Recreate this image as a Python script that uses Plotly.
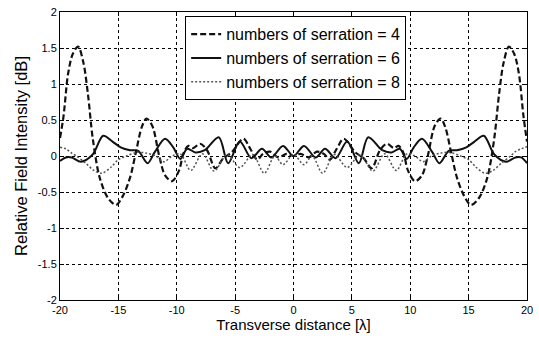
import plotly.graph_objects as go

# ---------------- data ----------------
x4 = [-20, -19.7, -19.3, -18.9, -18.45, -18.0, -17.6, -17.2, -16.6, -15.9, -15.2, -14.6, -14.0,
      -13.5, -13.0, -12.6, -12.1, -11.5, -11.0, -10.4, -9.8, -9.4, -9.0, -8.6, -8.0, -7.4,
      -6.7, -6.0, -5.3, -4.3, -3.7, -3.1, -2.6, -2.0, -1.3, -0.6, 0,
      0.6, 1.3, 2.0, 2.6, 3.1, 3.7, 4.3, 5.3, 6.0, 6.7, 7.4, 8.0, 8.6, 9.0, 9.4, 9.8,
      10.4, 11.0, 11.5, 12.1, 12.6, 13.0, 13.5, 14.0, 14.6, 15.2, 15.9, 16.6, 17.2, 17.6,
      18.0, 18.45, 18.9, 19.3, 19.7, 20]
y4 = [0.25, 0.55, 1.15, 1.42, 1.52, 1.3, 0.85, 0.25, -0.3, -0.58, -0.68, -0.55, -0.3,
      0.05, 0.4, 0.52, 0.42, 0.0, -0.27, -0.35, -0.2, 0.05, 0.14, 0.11, 0.17, 0.08,
      -0.17, -0.03, 0.05, 0.24, 0.1, -0.05, 0.03, 0.06, -0.02, 0.03, 0.0,
      0.03, -0.02, 0.06, 0.03, -0.05, 0.1, 0.24, 0.05, -0.03, -0.17, 0.08, 0.17, 0.11, 0.14, 0.05, -0.2,
      -0.35, -0.27, 0.0, 0.42, 0.52, 0.4, 0.05, -0.3, -0.55, -0.68, -0.58, -0.3, 0.25, 0.85,
      1.3, 1.52, 1.42, 1.15, 0.55, 0.2]

x6 = [-20, -19.5, -19, -18.2, -17.2, -16.3, -15.5, -14.8, -14, -13.3, -12.5, -11.9, -11,
      -10.3, -9.7, -9.1, -8.4, -7.6, -6.4, -5.6, -4.6, -3.6, -2.7, -1.9, -0.9, 0,
      0.9, 1.9, 2.7, 3.6, 4.6, 5.6, 6.4, 7.6, 8.4, 9.1, 9.7, 10.3, 11, 11.9, 12.5,
      13.3, 14, 14.8, 15.5, 16.3, 17.2, 18.2, 19, 19.5, 20]
y6 = [-0.07, -0.02, -0.02, -0.08, 0.02, 0.28, 0.2, 0.12, 0.08, 0.07, -0.1, 0.05, 0.24,
      0.12, -0.04, 0.1, 0.05, 0.08, 0.26, -0.1, 0.2, -0.03, 0.1, -0.02, 0.14, 0.0,
      0.14, -0.02, 0.1, -0.03, 0.2, -0.1, 0.26, 0.08, 0.05, 0.1, -0.04, 0.12, 0.24, 0.05, -0.1,
      0.07, 0.08, 0.12, 0.2, 0.28, 0.02, -0.08, -0.02, -0.02, -0.1]

x8 = [-20, -19.5, -19, -18.6, -17.8, -17.1, -16.4, -15.6, -15, -14.3, -13.4, -12.6, -11.8,
      -11.1, -10.4, -9.7, -8.8, -7.8, -6.8, -5.7, -4.6, -3.5, -2.5, -1.6, -0.9, 0,
      0.9, 1.6, 2.5, 3.5, 4.6, 5.7, 6.8, 7.8, 8.8, 9.7, 10.4, 11.1, 11.8, 12.6, 13.4,
      14.3, 15, 15.6, 16.4, 17.1, 17.8, 18.6, 19, 19.5, 20]
y8 = [0.12, 0.1, 0.04, 0.0, -0.1, -0.2, -0.24, -0.15, -0.05, 0.0, 0.05, 0.04, 0.0,
      -0.08, 0.0, 0.03, -0.2, 0.03, -0.21, 0.02, -0.16, 0.02, -0.24, 0.0, -0.12, 0.02,
      -0.12, 0.0, -0.24, 0.02, -0.16, 0.02, -0.21, 0.03, -0.2, 0.03, 0.0, -0.08, 0.0, 0.04, 0.05,
      0.0, -0.05, -0.15, -0.24, -0.2, -0.1, 0.0, 0.06, 0.1, 0.13]

names = ["numbers of serration = 4", "numbers of serration = 6", "numbers of serration = 8"]

x_ticks = [-20, -15, -10, -5, 0, 5, 10, 15, 20]
x_tick_labels = ["-20", "-15", "-10", "-5", "0", "5", "10", "15", "20"]
y_ticks = [-2, -1.5, -1, -0.5, 0, 0.5, 1, 1.5, 2]
y_tick_labels = ["-2", "-1.5", "-1", "-0.5", "0", "0.5", "1", "1.5", "2"]

x_title = "Transverse distance [λ]"
y_title = "Relative Field Intensity [dB]"

FONT = "Arial, Liberation Sans"

# ---------------- figure ----------------
fig = go.Figure()
fig.add_trace(go.Scatter(x=x4, y=y4, mode="lines", name=names[0],
                         line=dict(color="#111111", width=2.2, dash="6px,3px",
                                   shape="spline", smoothing=0.9)))
fig.add_trace(go.Scatter(x=x6, y=y6, mode="lines", name=names[1],
                         line=dict(color="#111111", width=2, shape="spline", smoothing=0.9)))
fig.add_trace(go.Scatter(x=x8, y=y8, mode="lines", name=names[2],
                         line=dict(color="#555555", width=1.5, dash="2px,2px",
                                   shape="spline", smoothing=0.9)))

axis_common = dict(
    showline=True, linecolor="black", linewidth=1, mirror="ticks",
    ticks="inside", ticklen=4, tickcolor="black",
    showgrid=True, gridcolor="black", gridwidth=1, griddash="dot",
    zeroline=False, automargin=False,
    tickfont=dict(family=FONT, size=11, color="black"),
)

fig.update_xaxes(range=[-20, 20], tickvals=x_ticks, ticktext=x_tick_labels,
                 title=dict(text=x_title, font=dict(family=FONT, size=15, color="black"),
                            standoff=4),
                 **axis_common)
fig.update_yaxes(range=[-2, 2], tickvals=y_ticks, ticktext=y_tick_labels,
                 title=dict(text=y_title, font=dict(family=FONT, size=16.5, color="black"),
                            standoff=6),
                 **axis_common)

fig.update_layout(
    width=539, height=339,
    margin=dict(l=60, r=12, t=12, b=39),
    paper_bgcolor="white", plot_bgcolor="white",
    legend=dict(x=0.268, y=0.985, xanchor="left", yanchor="top",
                bgcolor="white", bordercolor="black", borderwidth=1,
                font=dict(family=FONT, size=16, color="black"),
                itemwidth=30, tracegroupgap=0),
    showlegend=True,
)

fig.write_html("out.html")
